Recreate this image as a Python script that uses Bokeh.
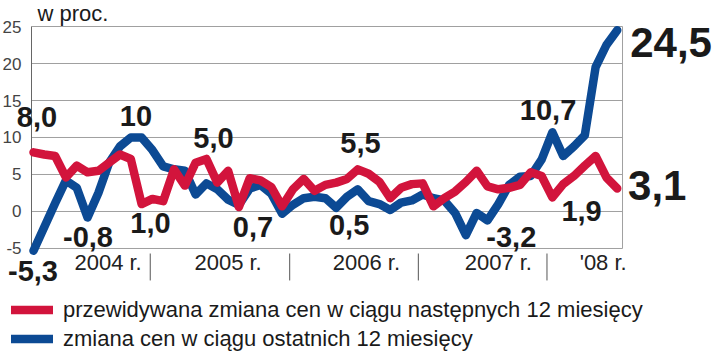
from bokeh.plotting import figure
from bokeh.models import Range1d, Label, Legend, LegendItem, ColumnDataSource
from bokeh.core.properties import value
from bokeh.embed import file_html
from bokeh.resources import INLINE

# ---- data (monthly, 2004 r. .. '08 r.) ----
expected = [8.0, 7.7, 7.5, 4.6, 6.2, 5.3, 5.5, 6.6, 7.7, 7.1,
            1.0, 1.7, 1.4, 5.7, 3.5, 6.6, 7.1, 3.9, 5.5, 0.6,
            4.5, 4.2, 3.3, 0.7, 3.0, 4.4, 2.8, 3.6, 3.9, 4.4,
            5.7, 5.1, 4.0, 1.8, 3.2, 3.7, 3.8, 0.7, 1.8, 2.7,
            4.0, 5.5, 3.4, 3.0, 3.2, 3.6, 5.3, 4.8, 1.9, 3.7,
            4.8, 6.2, 7.5, 4.6, 3.1]
past = [-5.3, -2.1, 1.1, 4.2, 3.2, -0.8, 2.5, 6.6, 8.8, 10.0,
        10.0, 8.3, 6.1, 5.7, 5.5, 2.3, 3.8, 3.0, 1.6, 0.9,
        3.1, 3.6, 2.4, -0.3, 0.9, 1.8, 2.0, 1.8, 0.5, 2.0,
        3.0, 1.4, 1.0, 0.2, 1.2, 1.5, 2.3, 1.8, 1.5, -0.2,
        -3.2, -0.2, -1.2, 1.0, 3.6, 4.7, 4.8, 7.0, 10.7, 7.5,
        8.8, 10.3, 19.5, 22.5, 24.5]
months = list(range(len(expected)))

year_labels = ["2004 r.", "2005 r.", "2006 r.", "2007 r.", "'08 r."]
year_label_pos = [6.9, 18.0, 30.8, 43.0, 52.7]
year_sep_pos = [10.8, 23.7, 35.6, 47.5]
y_ticks = [-5, 0, 5, 10, 15, 20, 25]
y_tick_labels = ["-5", "0", "5", "10", "15", "20", "25"]

series_names = ["przewidywana zmiana cen w ciągu następnych 12 miesięcy",
                "zmiana cen w ciągu ostatnich 12 miesięcy"]

# value annotations: (text, x, y, size, align)
annotations = [
    ("8,0", 0.32, 12.8, "29px", "center"),
    ("10", 9.48, 12.9, "29px", "center"),
    ("-5,3", -0.05, -8.1, "29px", "center"),
    ("-0,8", 5.04, -3.4, "29px", "center"),
    ("1,0", 10.82, -1.6, "29px", "center"),
    ("5,0", 16.65, 9.9, "29px", "center"),
    ("0,7", 20.3, -2.05, "29px", "center"),
    ("5,5", 30.25, 9.2, "29px", "center"),
    ("0,5", 29.2, -1.8, "29px", "center"),
    ("-3,2", 44.2, -3.4, "29px", "center"),
    ("10,7", 47.6, 13.7, "29px", "center"),
    ("1,9", 50.7, 0.0, "29px", "center"),
    ("24,5", 55.2, 22.9, "42px", "left"),
    ("3,1", 55.0, 3.5, "42px", "left"),
]

RED = "#d2143c"
BLUE = "#0c4a94"
FONT = "Liberation Sans"

# plot area geometry (in data units): x = month index, y = percent
X_LEFT, X_RIGHT = -0.185, 54.49

p = figure(width=720, height=353, output_backend="svg", toolbar_location=None,
           x_range=Range1d(-3.053, 63.553), y_range=Range1d(-19.19, 28.514),
           min_border_left=0, min_border_right=0, min_border_top=0,
           min_border_bottom=0, background_fill_color="white",
           border_fill_color="white")
p.outline_line_color = None
p.axis.visible = False
p.grid.visible = False

# gridlines, frame sides
p.segment(x0=[X_LEFT] * len(y_ticks), x1=[X_RIGHT] * len(y_ticks),
          y0=y_ticks, y1=y_ticks, line_color="#a0a0a0", line_width=1)
p.segment(x0=[X_RIGHT], x1=[X_RIGHT], y0=[y_ticks[0]], y1=[y_ticks[-1]],
          line_color="#a0a0a0", line_width=1)
p.segment(x0=[X_LEFT], x1=[X_LEFT], y0=[y_ticks[0]], y1=[y_ticks[-1]],
          line_color="#666666", line_width=1)

# y tick labels
p.text(x=[-1.11] * len(y_ticks), y=y_ticks, text=y_tick_labels,
       text_font=value(FONT), text_font_size="17px",
       text_color="#444444", text_align="right", text_baseline="middle")

# year separators and labels below the plot
p.segment(x0=year_sep_pos, x1=year_sep_pos, y0=[-5.68] * len(year_sep_pos),
          y1=[-9.32] * len(year_sep_pos), line_color="#555555", line_width=1)
p.text(x=year_label_pos, y=[-6.95] * len(year_label_pos), text=year_labels,
       text_font=value(FONT), text_font_size="22px",
       text_color="#222222", text_align="center", text_baseline="alphabetic")

src = ColumnDataSource(dict(x=months, red=expected, blue=past))
r_blue = p.line("x", "blue", source=src, line_color=BLUE, line_width=8.5,
                line_join="round", line_cap="round")
r_red = p.line("x", "red", source=src, line_color=RED, line_width=8.5,
               line_join="round", line_cap="round")

for text, x, y, size, align in annotations:
    p.add_layout(Label(x=x, y=y, text=text, text_font=FONT,
                       text_font_style="bold", text_font_size=size,
                       text_color="#1a1a1a", text_align=align,
                       text_baseline="alphabetic"))

p.add_layout(Label(x=0.37, y=26.8, text="w proc.", text_font=FONT,
                   text_font_size="22px", text_color="#1a1a1a",
                   text_align="left", text_baseline="alphabetic"))

legend = Legend(items=[LegendItem(label=series_names[0], renderers=[r_red]),
                       LegendItem(label=series_names[1], renderers=[r_blue])],
                location=(11, 0), orientation="vertical",
                glyph_width=42, glyph_height=29, label_height=29,
                label_standoff=10, spacing=0, padding=0, margin=0,
                border_line_color=None, background_fill_alpha=0,
                label_text_font=FONT, label_text_font_size="22px",
                label_text_color="#1a1a1a")
p.add_layout(legend, "center")

open("out.html", "w").write(file_html(p, INLINE))
